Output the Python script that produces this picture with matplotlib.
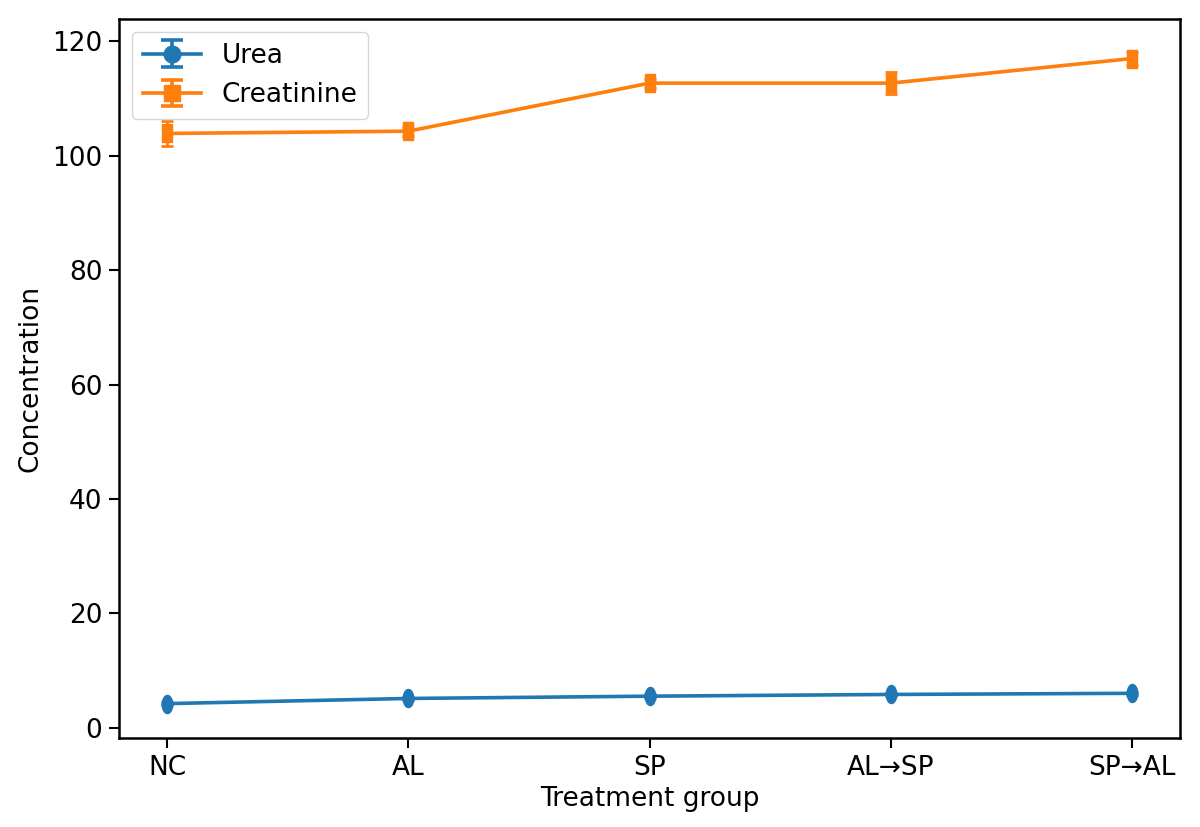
import matplotlib
matplotlib.use("Agg")
import matplotlib.pyplot as plt
import numpy as np
from matplotlib.path import Path

groups = ["NC", "AL", "SP", "AL→SP", "SP→AL"]
urea = [4.2, 5.1, 5.5, 5.8, 6.0]
urea_err = [0.3, 0.3, 0.3, 0.3, 0.3]
creatinine = [103.9, 104.3, 112.7, 112.7, 117.0]
creatinine_err = [2.2, 0.8, 0.8, 1.9, 1.2]
series_names = ["Urea", "Creatinine"]

plt.rcParams['font.family'] = ['DejaVu Sans']
plt.rcParams['font.size'] = 19

# tall, narrow marker shapes (as in the reference)
t = np.linspace(0, 2 * np.pi, 60)
ell = np.column_stack([0.58 * np.cos(t), np.sin(t)])
ell_marker = Path(ell, closed=True)
sq_marker = Path([(-0.58, -1), (0.58, -1), (0.58, 1), (-0.58, 1), (-0.58, -1)], closed=True)

fig = plt.figure(figsize=(12, 8.27), dpi=100)
ax = fig.add_axes([119 / 1200, 1 - 738 / 827, (1180 - 119) / 1200, (738 - 19) / 827])

x = np.arange(len(groups))
ax.errorbar(x, urea, yerr=urea_err, marker=ell_marker, markersize=13, capsize=4.5,
            linewidth=2.6, elinewidth=2.0, capthick=2.0, color="#1f77b4")
ax.errorbar(x, creatinine, yerr=creatinine_err, marker=sq_marker, markersize=13.5, capsize=4.5,
            linewidth=2.6, elinewidth=2.0, capthick=2.0, color="#ff7f0e")

# legend proxies (round markers, wider caps, as drawn in the reference legend)
h1 = ax.errorbar([np.nan], [np.nan], yerr=[1], marker="o", markersize=12, capsize=8,
                 linewidth=2.6, elinewidth=2.6, capthick=2.6, color="#1f77b4", label=series_names[0])
h2 = ax.errorbar([np.nan], [np.nan], yerr=[1], marker="s", markersize=12, capsize=8,
                 linewidth=2.6, elinewidth=2.6, capthick=2.6, color="#ff7f0e", label=series_names[1])

ax.set_xticks(x)
ax.set_xticklabels(groups)
ax.set_yticks([0, 20, 40, 60, 80, 100, 120])
ax.set_xlabel("Treatment group", labelpad=4)
ax.set_ylabel("Concentration", labelpad=6)
for s in ax.spines.values():
    s.set_linewidth(1.8)
ax.tick_params(width=1.5, length=7, pad=5)
ax.legend(handles=[h1, h2], loc="upper left", fontsize=19, handlelength=2.2, borderaxespad=0.5)

fig.savefig("out.png", dpi=100)
